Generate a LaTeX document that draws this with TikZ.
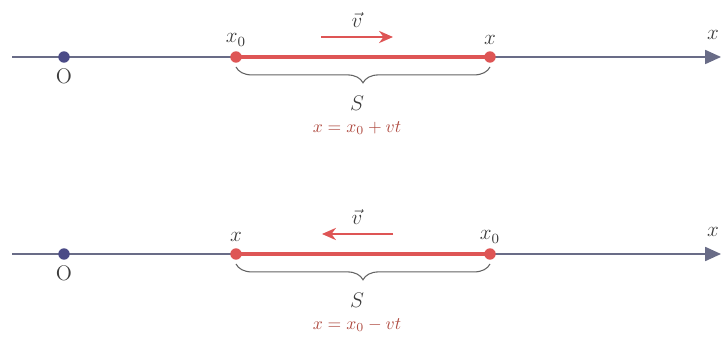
\documentclass[tikz,border=0pt]{standalone}
\usetikzlibrary{arrows.meta,decorations.pathreplacing}
\definecolor{axiscol}{RGB}{105,108,135}
\definecolor{origcol}{RGB}{75,75,135}
\definecolor{segcol}{RGB}{222,85,85}
\definecolor{labcol}{RGB}{60,60,60}
\definecolor{eqcol}{RGB}{175,75,65}
\tikzset{
  axis/.style={draw=axiscol,line width=0.8pt,-{Triangle[length=9pt,width=8pt]}},
  seg/.style={draw=segcol,line width=1.9pt},
  dot/.style={circle,inner sep=0pt,minimum size=6.5pt},
  vel/.style={draw=segcol,line width=0.8pt,-{Stealth[length=8pt,width=7pt]}},
  sbrace/.style={draw=labcol!80,line width=0.6pt,decorate,decoration={brace,mirror,amplitude=9pt}}
}
\begin{document}
\begin{tikzpicture}[x=0.02cm,y=-0.02cm,font=\large,text=labcol]
  \useasboundingbox (0,0) rectangle (723,340);
  \foreach \row/\yy/\la/\lb/\va/\vb/\op in {a/57/x_0/x/321/393/+,b/254/x/x_0/393/322/-} {
    \coordinate (start\row) at (12,\yy);
    \coordinate (end\row) at (721,\yy);
    \draw[axis] (start\row) -- (end\row);
    \node (xl\row) at (713,\yy-22) {$x$};
    % origin
    \node[dot,fill=origcol] (o\row) at (64,\yy) {};
    \node (ol\row) at (64,\yy+19) {O};
    % displacement
    \node[dot,fill=segcol] (p\row) at (236,\yy) {};
    \node[dot,fill=segcol] (q\row) at (490,\yy) {};
    \draw[seg] (p\row.center) -- (q\row.center);
    \node (pl\row) at (236,\yy-17) {$\la$};
    \node (ql\row) at (490,\yy-17) {$\lb$};
    % velocity
    \coordinate (va\row) at (\va,\yy-20);
    \coordinate (vb\row) at (\vb,\yy-20);
    \draw[vel] (va\row) -- (vb\row);
    \node (vl\row) at (357,\yy-37) {$\vec{v}$};
    % path length
    \coordinate (ba\row) at (236,\yy+10);
    \coordinate (bb\row) at (490,\yy+10);
    \draw[sbrace] (ba\row) -- (bb\row);
    \node (s\row) at (357,\yy+46) {$S$};
    \node[font=\normalsize,text=eqcol] (eq\row) at (357,\yy+71) {$x = x_0 \op vt$};
  }
\end{tikzpicture}
\end{document}
